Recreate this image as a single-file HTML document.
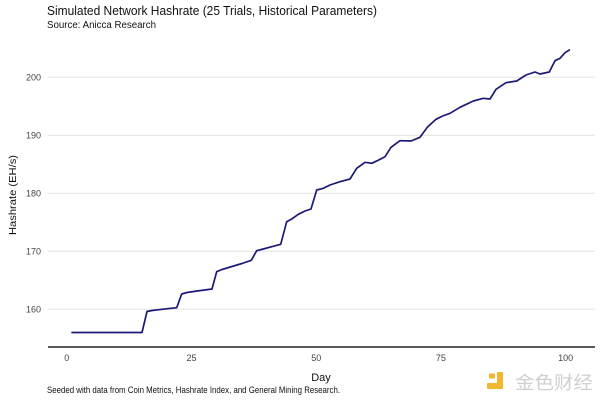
<!DOCTYPE html>
<html>
<head>
<meta charset="utf-8">
<style>
  html, body { margin: 0; padding: 0; background: #ffffff; }
  svg { display: block; }
  text { font-family: "Liberation Sans", sans-serif; }
</style>
</head>
<body>
<svg width="600" height="400" viewBox="0 0 600 400" xmlns="http://www.w3.org/2000/svg">
  <rect x="0" y="0" width="600" height="400" fill="#ffffff"/>

  <!-- Title & subtitle -->
  <text x="47" y="15" font-size="12.5" fill="#111" textLength="330" lengthAdjust="spacingAndGlyphs">Simulated Network Hashrate (25 Trials, Historical Parameters)</text>
  <text x="47" y="28" font-size="10" fill="#111" textLength="109" lengthAdjust="spacingAndGlyphs">Source: Anicca Research</text>

  <!-- Gridlines -->
  <g stroke="#e2e2e2" stroke-width="1">
    <line x1="48" y1="77.3" x2="595" y2="77.3"/>
    <line x1="48" y1="135.3" x2="595" y2="135.3"/>
    <line x1="48" y1="193.3" x2="595" y2="193.3"/>
    <line x1="48" y1="251.3" x2="595" y2="251.3"/>
    <line x1="48" y1="309.3" x2="595" y2="309.3"/>
  </g>

  <!-- Y tick labels -->
  <g font-size="9" fill="#444" text-anchor="end">
    <text x="41" y="80.5">200</text>
    <text x="41" y="138.5">190</text>
    <text x="41" y="196.5">180</text>
    <text x="41" y="254.5">170</text>
    <text x="41" y="312.5">160</text>
  </g>

  <!-- Y axis title -->
  <text transform="translate(16,195) rotate(-90)" font-size="10" fill="#111" text-anchor="middle" textLength="80" lengthAdjust="spacingAndGlyphs">Hashrate (EH/s)</text>

  <!-- X axis line -->
  <line x1="48" y1="347" x2="595" y2="347" stroke="#585858" stroke-width="2"/>

  <!-- X tick labels -->
  <g font-size="9" fill="#444" text-anchor="middle">
    <text x="66.7" y="361">0</text>
    <text x="191.5" y="361">25</text>
    <text x="316.2" y="361">50</text>
    <text x="440.9" y="361">75</text>
    <text x="565.7" y="361">100</text>
  </g>

  <!-- X axis title -->
  <text x="321" y="381" font-size="11" fill="#111" text-anchor="middle">Day</text>

  <!-- Series -->
  <polyline fill="none" stroke="#1c1a78" stroke-width="1.7" stroke-linejoin="round" stroke-linecap="round"
    points="72,332.5 142,332.5 147,311.5 152,310.5 162,309.3 176.7,307.7 181.7,294 187,292.5 197,291 212,289 216.7,271.7 222,269.5 232,266.5 242,263.5 251.3,260.3 256.7,250.7 263.3,249 271.7,246.7 280.7,244.3 286.7,221.7 291.7,219 298.3,214.3 305,211 311,209 316.7,190 323.3,188.3 330,185 340,181.7 350,179 356.7,168.3 365,162.3 371.7,163.3 377.3,160.7 385,156.7 391,147.3 400,140.7 411,141 420,137.3 427.3,127.3 436,119.3 442.7,116 450,113.3 460,107.3 473.3,101 483.3,98.3 490,99 496,89.3 506,82.7 516.7,81 526,75 535,72 540,74 549.3,72 555,60.7 560,58.3 565,52.7 569.3,50"/>

  <!-- Footer -->
  <text x="47" y="393" font-size="9" fill="#111" textLength="293" lengthAdjust="spacingAndGlyphs">Seeded with data from Coin Metrics, Hashrate Index, and General Mining Research.</text>

  <!-- Watermark -->
  <g fill="#f2b630">
    <rect x="489" y="373.5" width="6" height="5" rx="1"/>
    <rect x="497" y="372" width="6" height="17" rx="1"/>
    <rect x="487" y="383" width="12" height="6" rx="1"/>
  </g>
  <text x="515" y="389" font-size="18" fill="#cfcfcf" font-family="'Liberation Sans', 'Noto Sans CJK SC', sans-serif" textLength="78" lengthAdjust="spacingAndGlyphs">金色财经</text>
</svg>
</body>
</html>
